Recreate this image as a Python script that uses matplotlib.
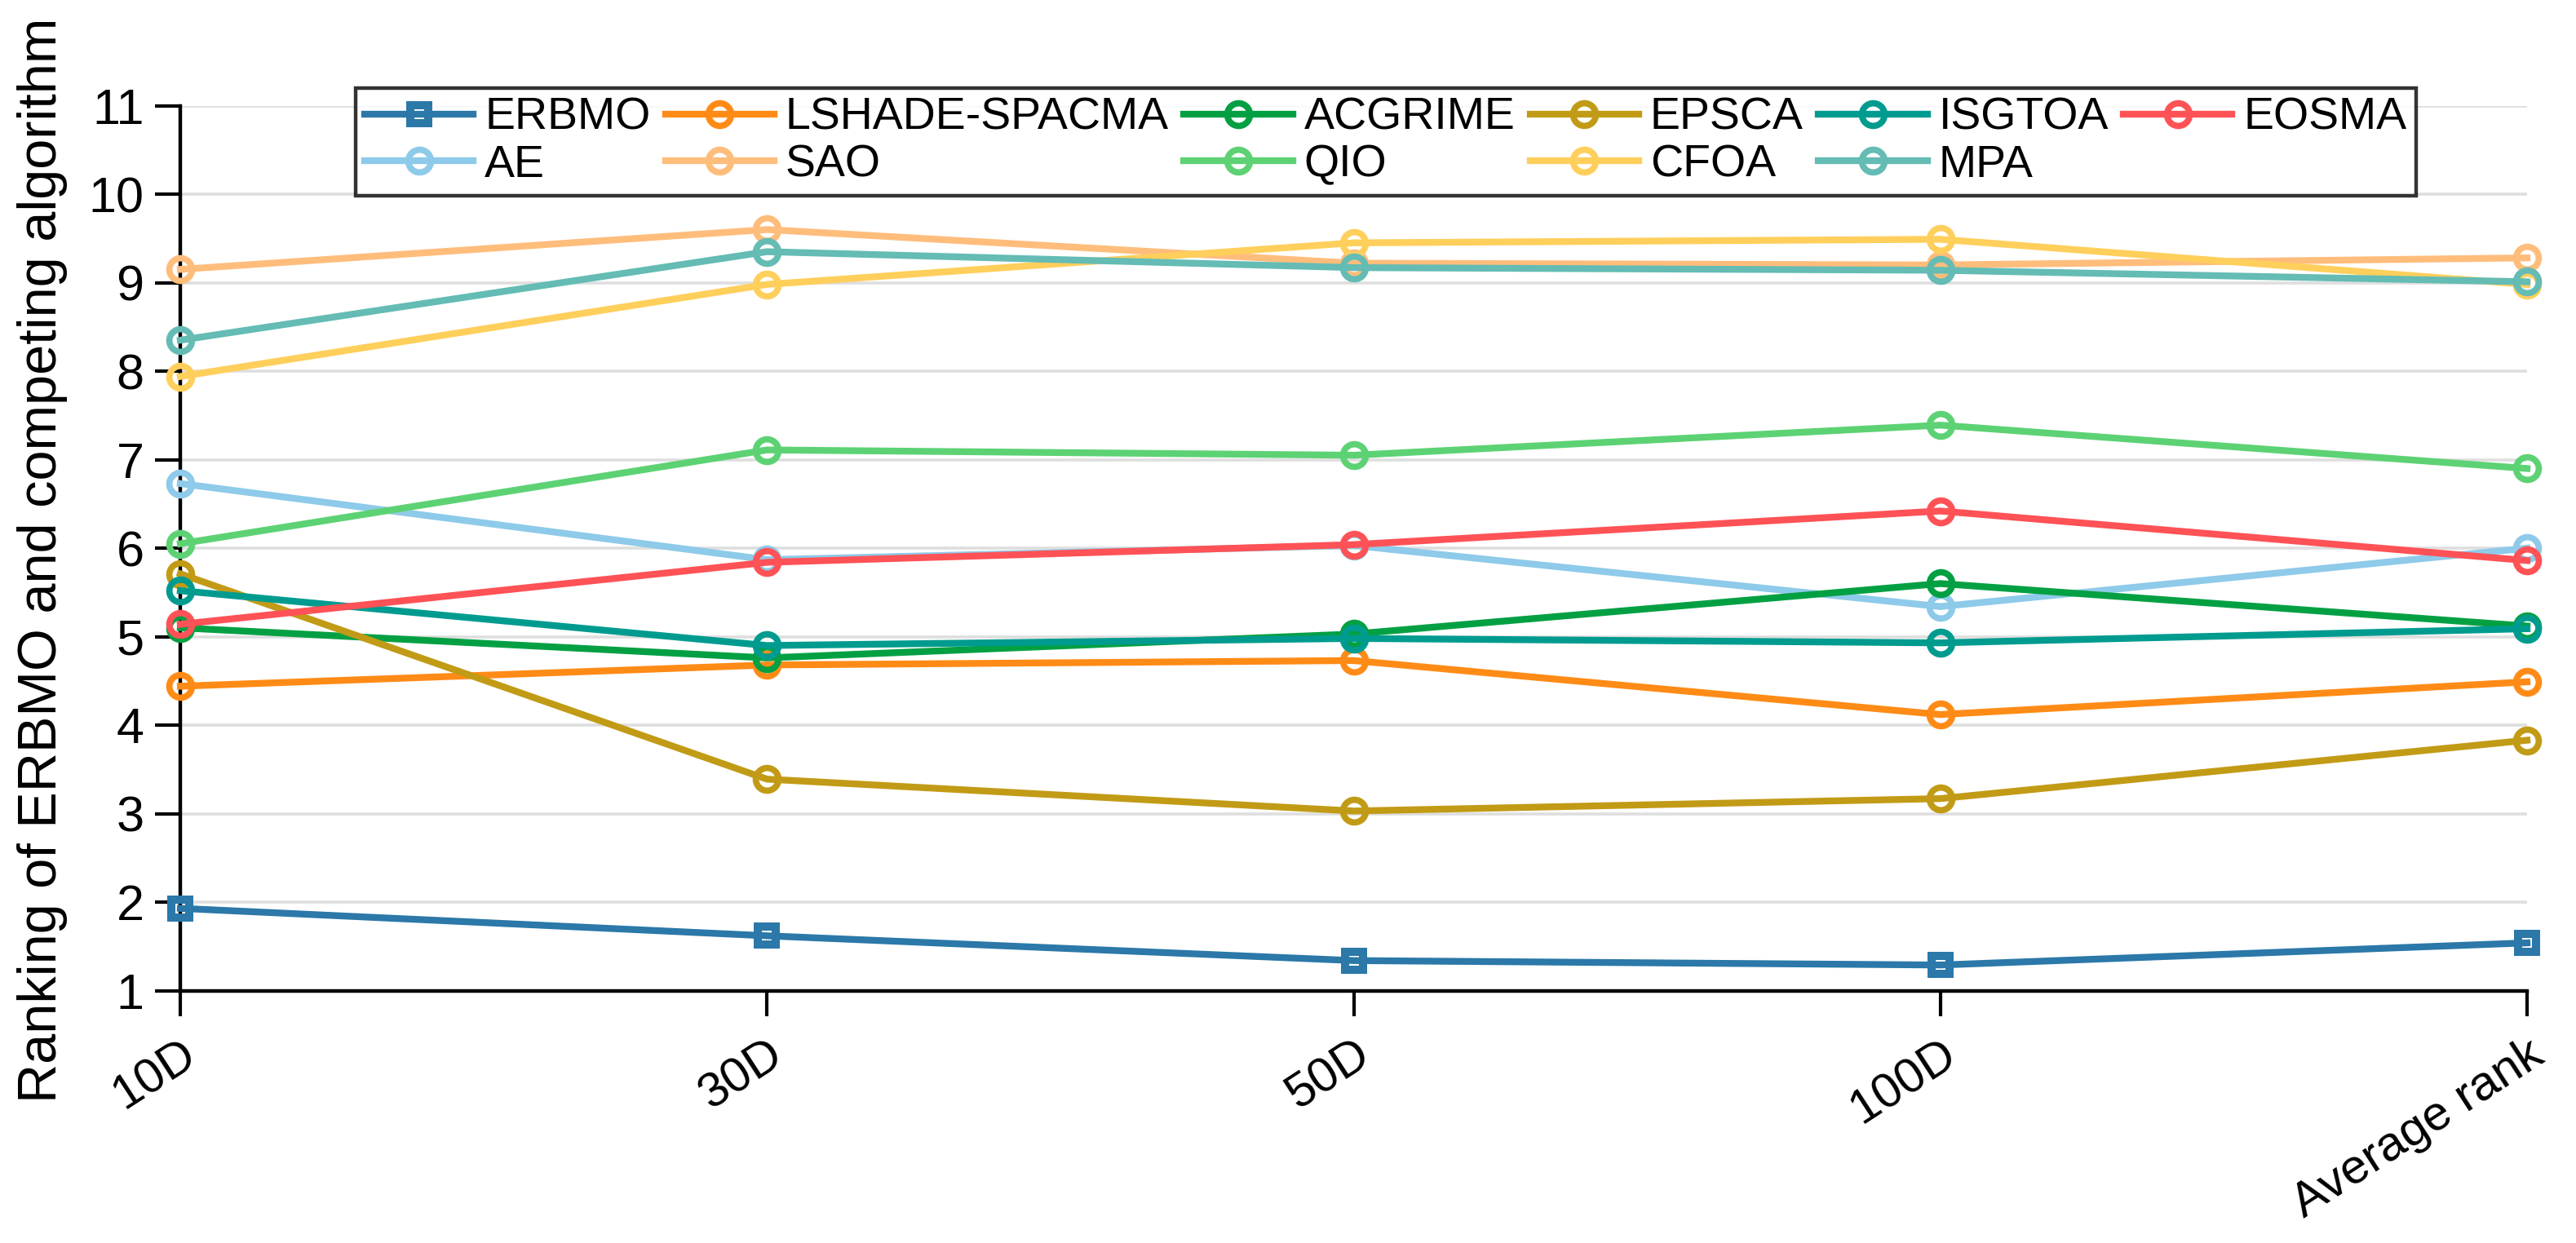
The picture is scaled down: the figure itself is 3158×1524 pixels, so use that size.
import matplotlib
matplotlib.use("Agg")
import matplotlib.pyplot as plt

plt.rcParams['font.family'] = ['Liberation Sans', 'DejaVu Sans']

dims = ["10D", "30D", "50D", "100D", "Average rank"]

# ranks
ERBMO = [1.93, 1.62, 1.34, 1.29, 1.54]
AE = [6.73, 5.87, 6.03, 5.34, 6.00]
LSHADE_SPACMA = [4.44, 4.68, 4.73, 4.12, 4.49]
SAO = [9.15, 9.60, 9.22, 9.20, 9.28]
ACGRIME = [5.10, 4.76, 5.03, 5.60, 5.12]
QIO = [6.05, 7.11, 7.05, 7.39, 6.90]
EPSCA = [5.71, 3.39, 3.03, 3.17, 3.83]
CFOA = [7.94, 8.98, 9.45, 9.49, 8.98]
ISGTOA = [5.52, 4.90, 4.98, 4.93, 5.09]
MPA = [8.35, 9.35, 9.17, 9.14, 9.01]
EOSMA = [5.14, 5.84, 6.04, 6.42, 5.86]

# order so that ncol=6 legend fills rows like the original
series = [
    ("ERBMO", ERBMO, "#2b78a9", "s"),
    ("AE", AE, "#8ecae9", "o"),
    ("LSHADE-SPACMA", LSHADE_SPACMA, "#ff8b17", "o"),
    ("SAO", SAO, "#ffbd7c", "o"),
    ("ACGRIME", ACGRIME, "#03a043", "o"),
    ("QIO", QIO, "#5dd274", "o"),
    ("EPSCA", EPSCA, "#c29b16", "o"),
    ("CFOA", CFOA, "#ffcf5c", "o"),
    ("ISGTOA", ISGTOA, "#009b8f", "o"),
    ("MPA", MPA, "#64bcb4", "o"),
    ("EOSMA", EOSMA, "#ff5256", "o"),
]

fig = plt.figure(figsize=(15.79, 7.62), dpi=200)
ax = fig.add_axes([0.070, 0.203, 0.911, 0.712])

x = list(range(len(dims)))
for name, vals, col, mk in series:
    if mk == "s":
        ax.plot(x, vals, color=col, lw=3.0, marker="s", ms=7.6,
                mfc="none", mec=col, mew=3.6, label=name, clip_on=False, zorder=3)
    else:
        ax.plot(x, vals, color=col, lw=3.0, marker="o", ms=10,
                mfc="none", mec=col, mew=2.8, label=name, clip_on=False, zorder=3)

ax.set_xlim(0, 4)
ax.set_ylim(1, 11)
ax.set_yticks(range(1, 12))
ax.set_xticks(x)
ax.set_xticklabels(dims, rotation=33, ha="right", rotation_mode="anchor")
ax.tick_params(axis="y", labelsize=22, length=11, width=1.5, direction="out", pad=5)
ax.tick_params(axis="x", labelsize=21.5, length=11, width=1.5, direction="out", pad=7)

ax.grid(axis="y", color="#dedede", lw=1.3)
ax.set_axisbelow(True)
ax.spines["top"].set_visible(False)
ax.spines["right"].set_visible(False)
ax.spines["left"].set_linewidth(1.6)
ax.spines["bottom"].set_linewidth(1.6)

ax.set_ylabel("Ranking of ERBMO and competing algorithm", fontsize=24)
ax.yaxis.set_label_coords(-0.048, 0.486)

leg = ax.legend(loc="upper center", bbox_to_anchor=(0.5136, 1.020), ncol=6,
                fontsize=20, frameon=True, fancybox=False, borderaxespad=0,
                handlelength=2.4, handletextpad=0.25, columnspacing=0.33,
                labelspacing=0.1, borderpad=0.2)
leg.get_frame().set_edgecolor("black")
leg.get_frame().set_linewidth(1.6)

fig.savefig("out.png", dpi=200)
